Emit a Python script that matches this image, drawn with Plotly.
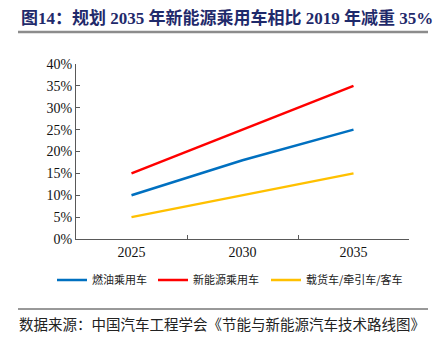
import plotly.graph_objects as go

years = ["2025", "2030", "2035"]
ice_passenger = [10, 18, 25]
nev_passenger = [15, 25, 35]
trucks_buses = [5, 10, 15]
series_names = ["燃油乘用车", "新能源乘用车", "载货车/牵引车/客车"]
y_ticks = [0, 5, 10, 15, 20, 25, 30, 35, 40]
y_tick_labels = [f"{v}%" for v in y_ticks]

W, H = 436, 338
L, R, T, B = 76, 409, 64, 239

def px_x(px):
    return (px - L) / (R - L)

def px_y(py):
    return (B - py) / (B - T)

legend_ids = ["legend", "legend2", "legend3"]
legend_left = [52, 153, 266]

fig = go.Figure()
for name, vals, col, lid in zip(series_names, [ice_passenger, nev_passenger, trucks_buses],
                                ["#0070C0", "#FF0000", "#FFC000"], legend_ids):
    fig.add_trace(go.Scatter(x=years, y=vals, mode="lines", name=name, legend=lid,
                             line=dict(color=col, width=2.5)))

legend_style = dict(orientation="h", xref="container", yref="container",
                    xanchor="left", y=1 - 280 / H, yanchor="middle",
                    bgcolor="rgba(0,0,0,0)",
                    font=dict(family="Noto Sans CJK SC", size=11, color="#222"))

fig.update_layout(
    width=W, height=H,
    margin=dict(l=L, r=W - R, t=T, b=H - B, autoexpand=False),
    paper_bgcolor="white", plot_bgcolor="white",
    showlegend=True,
    font=dict(family="Liberation Serif", size=14, color="#111"),
)
for lid, lx in zip(legend_ids, legend_left):
    fig.update_layout({lid: dict(legend_style, x=lx / W)})

fig.update_xaxes(type="category", range=[-0.5, 2.5], showline=True, linecolor="#595959",
                 linewidth=1.2, ticks="inside", ticklen=4, tickcolor="#595959",
                 tickson="boundaries", showgrid=False, zeroline=False,
                 tickfont=dict(family="Liberation Serif", size=14, color="#111"))
fig.update_yaxes(range=[0, 40], tickvals=y_ticks, ticktext=y_tick_labels, showline=True,
                 linecolor="#595959", linewidth=1.2, ticks="inside", ticklen=4,
                 tickcolor="#595959", showgrid=False, zeroline=False,
                 tickfont=dict(family="Liberation Serif", size=14, color="#111"))

fig.add_annotation(xref="paper", yref="paper", x=px_x(19), y=px_y(18), xanchor="left",
                   yanchor="middle", showarrow=False,
                   text="<b>图14：规划 2035 年新能源乘用车相比 2019 年减重 35%</b>",
                   font=dict(family="Liberation Serif, Noto Sans CJK SC", size=17, color="#1F2A6B"))
fig.add_annotation(xref="paper", yref="paper", x=px_x(17), y=px_y(323), xanchor="left",
                   yanchor="middle", showarrow=False,
                   text="数据来源：中国汽车工程学会《节能与新能源汽车技术路线图》",
                   font=dict(family="Noto Sans CJK SC", size=14.5, color="#222"))
fig.add_shape(type="line", xref="paper", yref="paper", x0=px_x(18), x1=px_x(428),
              y0=px_y(32), y1=px_y(32), line=dict(color="#8c8c8c", width=2.5))
fig.add_shape(type="line", xref="paper", yref="paper", x0=px_x(18), x1=px_x(428),
              y0=px_y(309), y1=px_y(309), line=dict(color="#333", width=1))

fig.write_html("out.html")
